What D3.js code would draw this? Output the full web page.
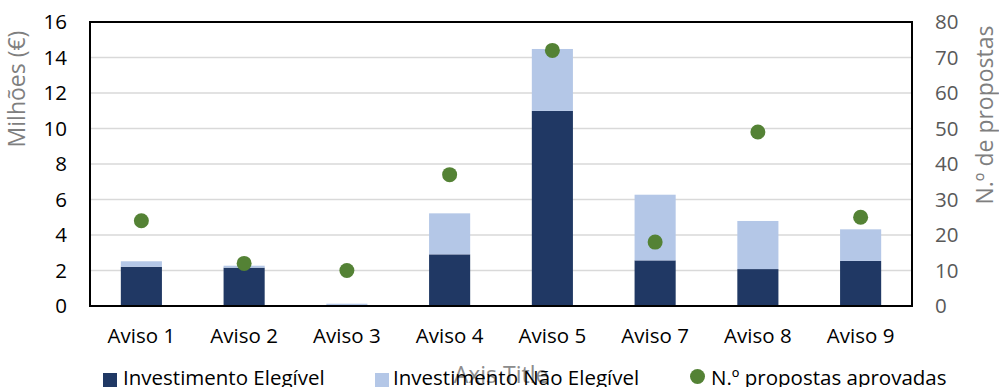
<!DOCTYPE html>
<html lang="pt">
<head>
<meta charset="utf-8">
<script src="https://cdn.jsdelivr.net/npm/d3@7"></script>
<style>
	html, body { margin: 0; padding: 0; background: #fff; }
	svg { display: block; font-family: "Open Sans", sans-serif; }
</style>
</head>
<body>
<svg id="chart" width="999" height="387"></svg>
<script>
'use strict';

// Investimento por aviso (stacked bars, left axis) + nº de propostas (dots, right axis).

const avisos = ['Aviso 1', 'Aviso 2', 'Aviso 3', 'Aviso 4', 'Aviso 5', 'Aviso 7', 'Aviso 8', 'Aviso 9'];
const investElegivel = [2.21, 2.16, 0.0, 2.91, 10.99, 2.57, 2.08, 2.54];
const investNaoElegivel = [0.31, 0.11, 0.13, 2.31, 3.49, 3.70, 2.71, 1.78];
const propostas = [24, 12, 10, 37, 72, 18, 49, 25];
const leftTicks = [0, 2, 4, 6, 8, 10, 12, 14, 16];
const rightTicks = [0, 10, 20, 30, 40, 50, 60, 70, 80];
const seriesNames = ['Investimento Elegível', 'Investimento Não Elegível', 'N.º propostas aprovadas'];

const PALETTE = {
	elegivel: '#203864',
	naoElegivel: '#b4c7e7',
	propostas: '#548235',
	grid: '#d9d9d9',
	border: '#000',
	text: '#000',
	rightText: '#595959',
	title: '#7f7f7f',
	ghost: '#8c8c8c'
};

const PLOT = { left: 90, right: 912, top: 22, bottom: 306 };
const FONT = 20.5;
const TITLE_FONT = 23;

const svg = d3.select('#chart');

const x = d3.scaleBand()
	.domain(avisos)
	.range([PLOT.left, PLOT.right])
	.paddingInner(0.6)
	.paddingOuter(0.3);

const yLeft = d3.scaleLinear().domain([0, 16]).range([PLOT.bottom, PLOT.top]);
const yRight = d3.scaleLinear().domain([0, 80]).range([PLOT.bottom, PLOT.top]);

// ----------------------- grid ------------------------------------------

svg.append('g')
	.selectAll('line')
	.data(leftTicks.slice(1, -1))
	.join('line')
	.attr('x1', PLOT.left).attr('x2', PLOT.right)
	.attr('y1', (d) => yLeft(d)).attr('y2', (d) => yLeft(d))
	.attr('stroke', PALETTE.grid)
	.attr('stroke-width', 1.5);

// ----------------------- bars ------------------------------------------

const rows = avisos.map((a, i) => ({ aviso: a, eleg: investElegivel[i], nao: investNaoElegivel[i] }));
const stacked = d3.stack().keys(['eleg', 'nao'])(rows);
const barColors = { eleg: PALETTE.elegivel, nao: PALETTE.naoElegivel };

svg.append('g')
	.selectAll('g')
	.data(stacked)
	.join('g')
	.attr('fill', (s) => barColors[s.key])
	.selectAll('rect')
	.data((s) => s)
	.join('rect')
	.attr('x', (d) => x(d.data.aviso))
	.attr('width', x.bandwidth())
	.attr('y', (d) => yLeft(d[1]))
	.attr('height', (d) => yLeft(d[0]) - yLeft(d[1]));

// ----------------------- border ----------------------------------------

svg.append('rect')
	.attr('x', PLOT.left).attr('y', PLOT.top)
	.attr('width', PLOT.right - PLOT.left)
	.attr('height', PLOT.bottom - PLOT.top)
	.attr('fill', 'none')
	.attr('stroke', PALETTE.border)
	.attr('stroke-width', 2);

// ----------------------- dots ------------------------------------------

svg.append('g')
	.selectAll('circle')
	.data(propostas)
	.join('circle')
	.attr('cx', (d, i) => x(avisos[i]) + x.bandwidth() / 2)
	.attr('cy', (d) => yRight(d))
	.attr('r', 7.5)
	.attr('fill', PALETTE.propostas);

// ----------------------- axes ------------------------------------------

function styleAxis(g, color) {
	g.select('.domain').remove();
	g.selectAll('.tick line').remove();
	g.selectAll('.tick text')
		.attr('fill', color)
		.style('font-size', `${FONT}px`)
		.style('font-family', '"Open Sans", sans-serif');
}

svg.append('g')
	.attr('transform', `translate(${PLOT.left - 23},0)`)
	.call(d3.axisLeft(yLeft).tickValues(leftTicks).tickSize(0).tickPadding(0))
	.call((g) => styleAxis(g, PALETTE.text));

svg.append('g')
	.attr('transform', `translate(${PLOT.right + 23},0)`)
	.call(d3.axisRight(yRight).tickValues(rightTicks).tickSize(0).tickPadding(0))
	.call((g) => styleAxis(g, PALETTE.rightText));

svg.append('g')
	.attr('transform', `translate(0,${PLOT.bottom + 22})`)
	.call(d3.axisBottom(x).tickSize(0).tickPadding(0))
	.call((g) => styleAxis(g, PALETTE.text));

// ----------------------- titles ----------------------------------------

svg.append('text')
	.attr('transform', 'translate(25,89) rotate(-90)')
	.attr('text-anchor', 'middle')
	.attr('fill', PALETTE.title)
	.style('font-size', `${TITLE_FONT}px`)
	.text('Milhões (€)');

svg.append('text')
	.attr('transform', 'translate(993,115) rotate(-90)')
	.attr('text-anchor', 'middle')
	.attr('fill', PALETTE.title)
	.style('font-size', `${TITLE_FONT}px`)
	.text('N.º de propostas');

// Leftover default category-axis title, sits underneath the legend.
svg.append('text')
	.attr('x', (PLOT.left + PLOT.right) / 2)
	.attr('y', 383)
	.attr('text-anchor', 'middle')
	.attr('fill', PALETTE.ghost)
	.style('font-size', `${TITLE_FONT}px`)
	.text('Axis Title');

// ----------------------- legend ----------------------------------------

const legendItems = [
	{ name: seriesNames[0], color: PALETTE.elegivel, shape: 'square', mx: 103, tx: 123 },
	{ name: seriesNames[1], color: PALETTE.naoElegivel, shape: 'square', mx: 375, tx: 393 },
	{ name: seriesNames[2], color: PALETTE.propostas, shape: 'circle', mx: 690, tx: 711 }
];

const legend = svg.append('g')
	.selectAll('g')
	.data(legendItems)
	.join('g');

legend.filter((d) => d.shape === 'square')
	.append('rect')
	.attr('x', (d) => d.mx).attr('y', 373)
	.attr('width', 14).attr('height', 14)
	.attr('fill', (d) => d.color);

legend.filter((d) => d.shape === 'circle')
	.append('circle')
	.attr('cx', (d) => d.mx + 7.5).attr('cy', 376.5)
	.attr('r', 7.5)
	.attr('fill', (d) => d.color);

legend.append('text')
	.attr('x', (d) => d.tx)
	.attr('y', 385)
	.attr('fill', PALETTE.text)
	.style('font-size', `${FONT}px`)
	.text((d) => d.name);
</script>
</body>
</html>
